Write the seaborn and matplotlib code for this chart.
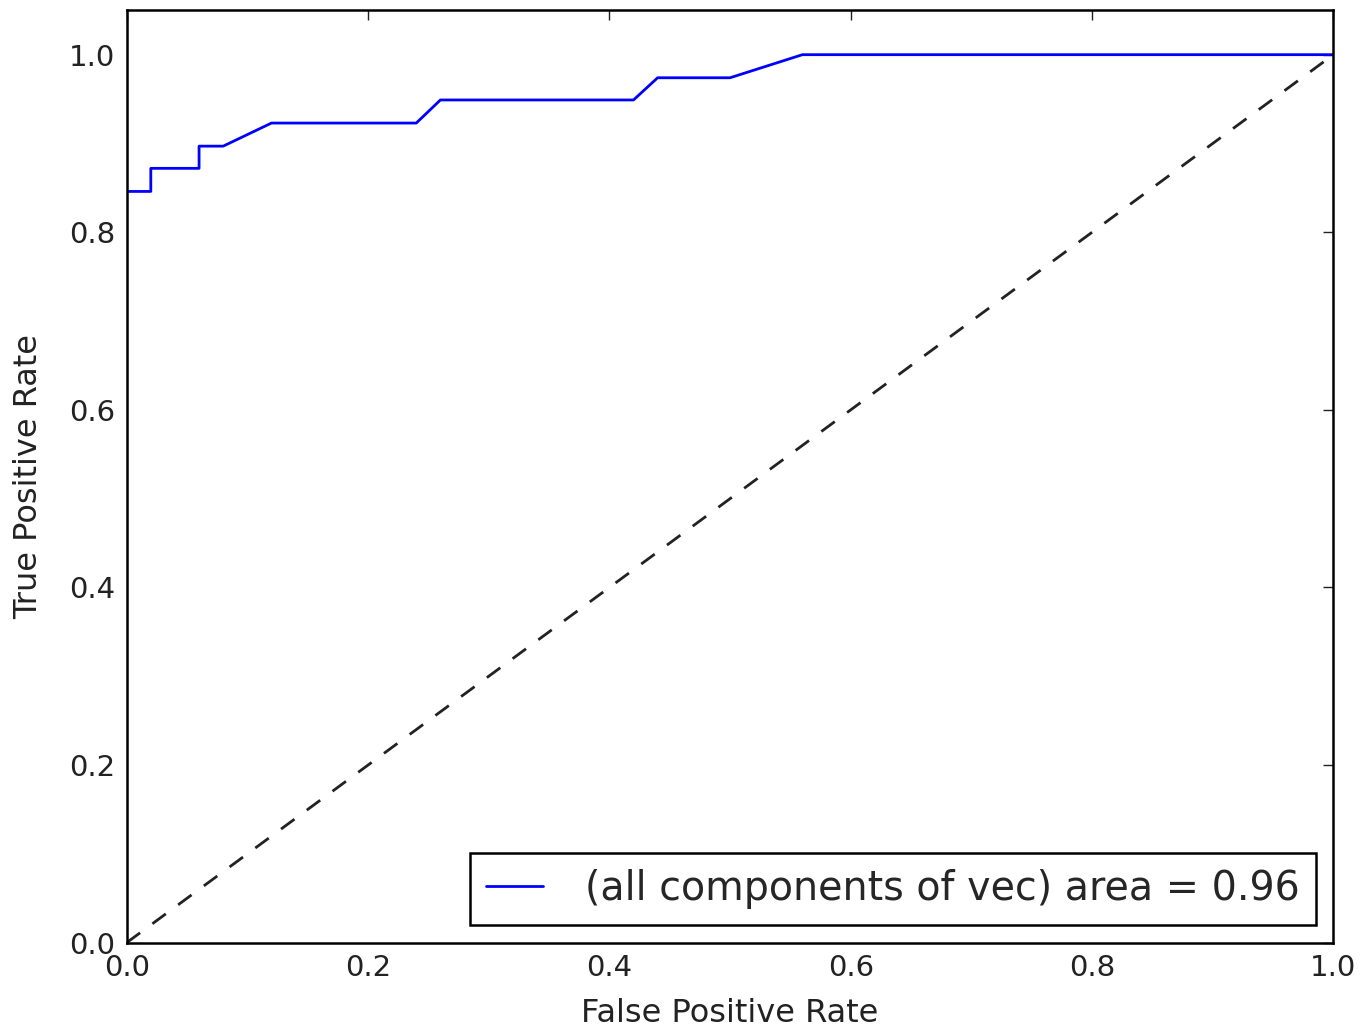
import matplotlib
matplotlib.use("Agg")
import matplotlib.pyplot as plt
import seaborn as sns
import pandas as pd

# ROC curve data
fpr = [0.0, 0.02, 0.02, 0.06, 0.06, 0.08, 0.12, 0.24, 0.26, 0.42, 0.44, 0.50, 0.56, 1.0]
tpr = [0.846, 0.846, 0.872, 0.872, 0.897, 0.897, 0.923, 0.923, 0.949, 0.949, 0.974, 0.974, 1.0, 1.0]
chance_x = [0.0, 1.0]
chance_y = [0.0, 1.0]
curve_label = "(all components of vec) area = 0.96"
x_ticks = [0.0, 0.2, 0.4, 0.6, 0.8, 1.0]
y_ticks = [0.0, 0.2, 0.4, 0.6, 0.8, 1.0]

sns.set_style("white")
plt.rcParams["font.family"] = ["DejaVu Sans"]

fig = plt.figure(figsize=(13.62, 10.28), dpi=100)
ax = fig.add_axes([0.093, 0.083, 0.886, 0.907])

df = pd.DataFrame({"fpr": fpr, "tpr": tpr})
sns.lineplot(data=df, x="fpr", y="tpr", sort=False, estimator=None, ax=ax,
             color="#0000ff", linewidth=2.0, label=curve_label)
sns.lineplot(x=chance_x, y=chance_y, ax=ax, color="#222222", linewidth=2.0,
             linestyle=(0, (6.0, 5.5)), estimator=None)

ax.set_xlim(0, 1)
ax.set_ylim(0, 1.05)
ax.set_xticks(x_ticks)
ax.set_yticks(y_ticks)
ax.set_xticklabels([f"{v:.1f}" for v in x_ticks])
ax.set_yticklabels([f"{v:.1f}" for v in y_ticks])
ax.tick_params(direction="in", length=7, width=1, top=True, right=True,
               labelsize=21, colors="#222222", pad=8)
ax.tick_params(axis="x", pad=8)
for s in ax.spines.values():
    s.set_color("black")
    s.set_linewidth(1.8)

ax.set_xlabel("False Positive Rate", fontsize=23, color="#222222", labelpad=12)
ax.set_ylabel("True Positive Rate", fontsize=23, color="#222222", labelpad=18)

leg = ax.legend(loc="lower right", fontsize=28.5, frameon=True, fancybox=False,
                edgecolor="black", handlelength=1.45, handletextpad=1.05,
                borderpad=0.4, borderaxespad=0.45)
leg.get_frame().set_linewidth(1.8)
leg.get_frame().set_alpha(1)

fig.savefig("out.png", dpi=100)
